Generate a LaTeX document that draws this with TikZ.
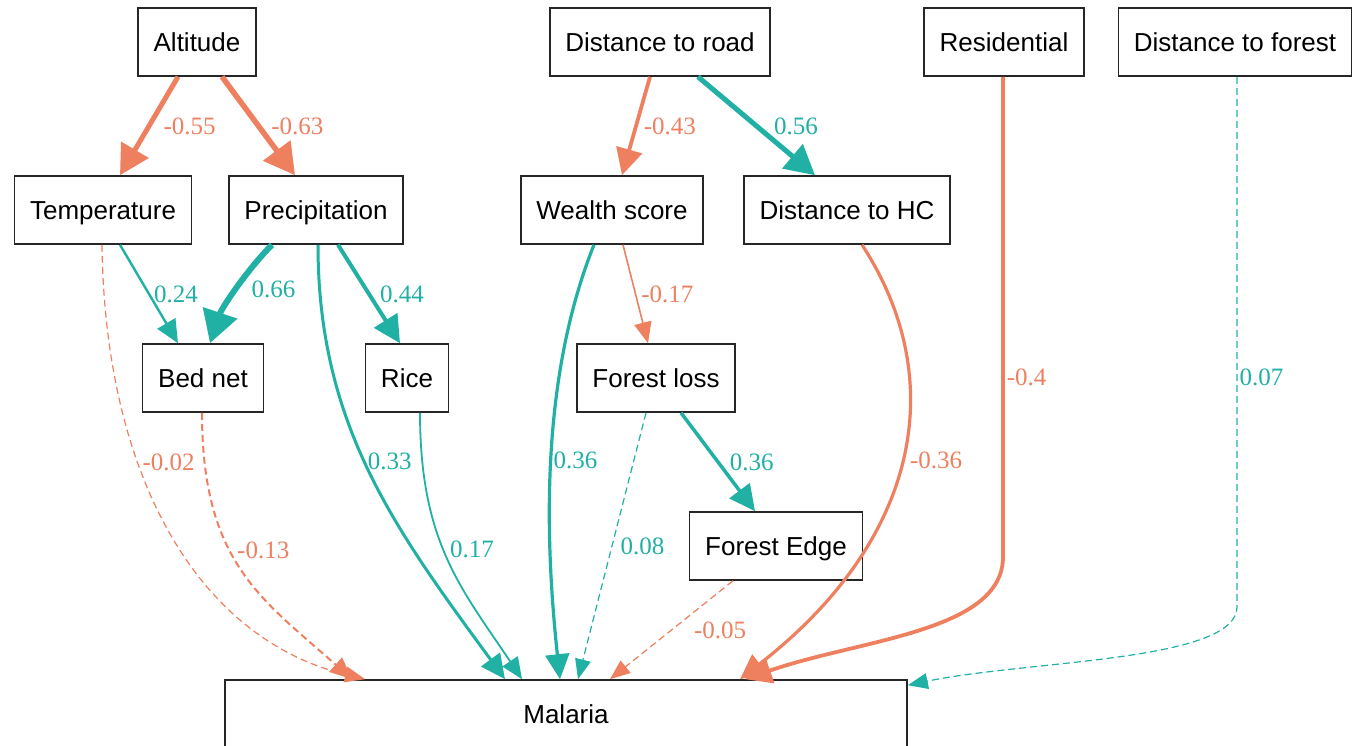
\documentclass[tikz,border=0pt]{standalone}
\usepackage{fontspec}
\setmainfont{Liberation Serif}
\setsansfont{Liberation Sans}
\usetikzlibrary{arrows.meta}
\definecolor{EffPos}{RGB}{32,176,164}
\definecolor{EffNeg}{RGB}{238,128,96}

\begin{document}
\begin{tikzpicture}[x=1pt, y=-1pt,
    var/.style={rectangle, draw=black!85, line width=1.6pt, minimum height=68pt,
                inner xsep=15.5pt, text height=19pt, text depth=0pt,
                font=\sffamily\fontsize{26}{30}\selectfont},
    coef/.style={anchor=west, inner sep=2pt, font=\fontsize{25}{30}\selectfont},
    poseff/.style={color=EffPos},
    negeff/.style={color=EffNeg},
    ns/.style={dash pattern=on 7pt off 4pt},
    arr/.style={-{Triangle[length=17pt 2.5, width=11pt 4]}}
  ]
  \useasboundingbox (0,0) rectangle (1358,746);

  % exogenous variables
  \node[var] (alt)  at (197,42)  {Altitude};
  \node[var] (road) at (660,42)  {Distance to road};
  \node[var] (res)  at (1004,42) {Residential};
  \node[var] (dfor) at (1235,42) {Distance to forest};

  % mediators
  \node[var] (temp)   at (103,210) {Temperature};
  \node[var] (prec)   at (316,210) {Precipitation};
  \node[var] (wealth) at (612,210) {Wealth score};
  \node[var] (dhc)    at (847,210) {Distance to HC};
  \node[var] (bed)    at (203,378) {Bed net};
  \node[var] (rice)   at (407,378) {Rice};
  \node[var] (floss)  at (656,378) {Forest loss};
  \node[var] (fedge)  at (776,546) {Forest Edge};

  % outcome
  \node[var, minimum width=682pt] (mal) at (566,714) {Malaria};

  % paths between mediators
  \draw[negeff, arr, line width=5pt] ([xshift=-19pt]alt.south)
    -- node[coef, xshift=10pt] {-0.55} ([xshift=17pt]temp.north);
  \draw[negeff, arr, line width=5.5pt] ([xshift=25pt]alt.south)
    -- node[coef, xshift=8pt] {-0.63} ([xshift=-21pt]prec.north);
  \draw[negeff, arr, line width=3.8pt] ([xshift=-10pt]road.south)
    -- node[coef, xshift=4pt] {-0.43} ([xshift=10pt]wealth.north);
  \draw[poseff, arr, line width=5pt] ([xshift=38pt]road.south)
    -- node[coef, xshift=13pt] {0.56} ([xshift=-32pt]dhc.north);
  \draw[poseff, arr, line width=2.4pt] ([xshift=17pt]temp.south)
    -- node[coef, xshift=2pt] {0.24} ([xshift=-25pt]bed.north);
  \draw[poseff, arr, line width=6pt] ([xshift=-44pt]prec.south)
    .. controls +(-24,24) and +(12,-36) .. node[coef, xshift=10pt] {0.66} ([xshift=7pt]bed.north);
  \draw[poseff, arr, line width=4pt] ([xshift=22pt]prec.south)
    -- node[coef, xshift=7pt] {0.44} ([xshift=-7pt]rice.north);
  \draw[negeff, arr, line width=1.6pt] ([xshift=11pt]wealth.south)
    -- node[coef, xshift=3pt] {-0.17} ([xshift=-8pt]floss.north);
  \draw[poseff, arr, line width=3.5pt] ([xshift=25pt]floss.south)
    -- node[coef, xshift=8pt] {0.36} ([xshift=-21pt]fedge.north);

  % paths into Malaria
  \draw[negeff, ns, arr, line width=1.2pt] ([xshift=-1pt]temp.south)
    .. controls +(3,235) and +(-165,-40) .. node[coef, pos=0.35, xshift=2pt] {-0.02} ([xshift=-201pt]mal.north);
  \draw[negeff, ns, arr, line width=2pt] ([xshift=-1pt]bed.south)
    .. controls +(0,150) and +(-90,-80) .. node[coef, pos=0.41, xshift=4pt] {-0.13} ([xshift=-214pt]mal.north);
  \draw[poseff, arr, line width=3pt] ([xshift=2pt]prec.south)
    .. controls +(0,180) and +(-110,-150) .. node[coef, pos=0.47] {0.33} ([xshift=-61pt]mal.north);
  \draw[poseff, arr, line width=1.8pt] ([xshift=13pt]rice.south)
    .. controls +(0,130) and +(-60,-90) .. node[coef, pos=0.45, xshift=4pt] {0.17} ([xshift=-44pt]mal.north);
  \draw[poseff, arr, line width=3.2pt] ([xshift=-18pt]wealth.south)
    .. controls +(-54,135) and +(-15,-140) .. node[coef, xshift=-1pt] {0.36} ([xshift=-6pt]mal.north);
  \draw[poseff, ns, arr, line width=1.2pt] ([xshift=-10pt]floss.south)
    -- node[coef, xshift=6pt] {0.08} ([xshift=12pt]mal.north);
  \draw[negeff, ns, arr, line width=1.2pt] ([xshift=-43pt]fedge.south)
    -- node[coef, xshift=20pt] {-0.05} ([xshift=44pt]mal.north);
  \draw[negeff, arr, line width=3.2pt] ([xshift=15pt]dhc.south)
    .. controls +(88,135) and +(180,-140) .. node[coef, xshift=5pt] {-0.36} ([xshift=174pt]mal.north);
  \draw[negeff, arr, line width=3.8pt] ([xshift=-1pt]res.south)
    -- node[coef, pos=0.627] {-0.4} +(0,480)
    .. controls +(0,75) and +(115,-40) .. ([xshift=179pt]mal.north);
  \draw[poseff, ns, arr, line width=1.2pt] ([xshift=2pt]dfor.south)
    -- node[coef, pos=0.568] {0.07} +(0,530)
    .. controls +(0,55) and +(120,-25) .. ([yshift=-6pt]mal.north east);
\end{tikzpicture}
\end{document}
